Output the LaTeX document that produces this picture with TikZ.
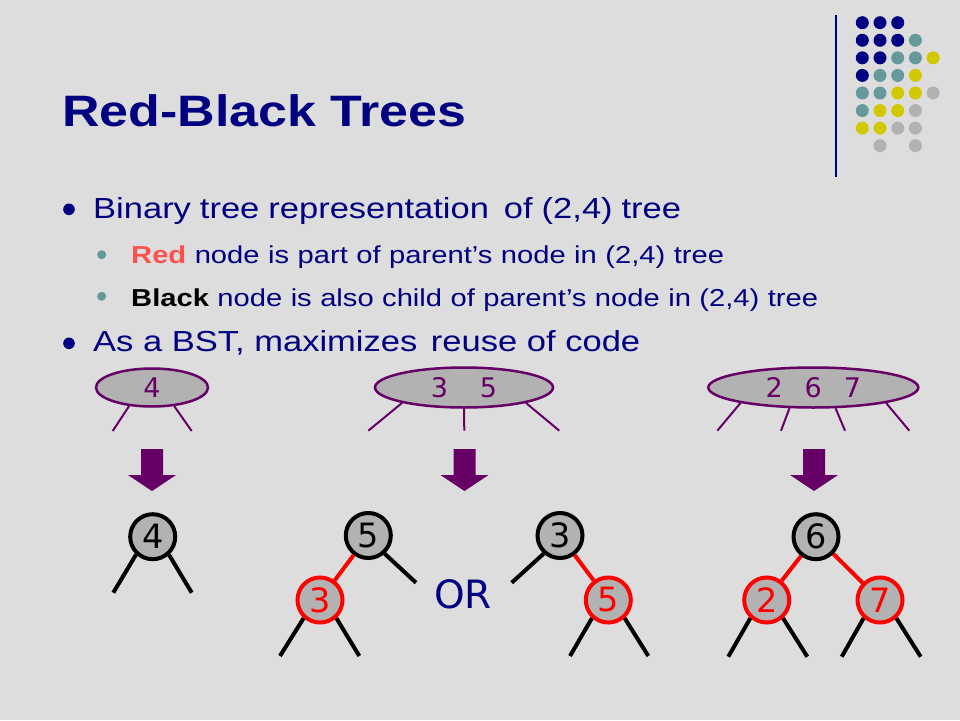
\documentclass[tikz,border=0pt]{standalone}
\usepackage{fontspec}
\setmainfont{Liberation Sans}
\newfontfamily\bodyfont[FakeStretch=1.19]{Liberation Sans}
\newfontfamily\titlefont[FakeStretch=1.18]{Liberation Sans}
\newfontfamily\digitfont{DejaVu Sans}
\usetikzlibrary{shapes.geometric}
\definecolor{bgc}{HTML}{DDDDDD}
\definecolor{navy}{HTML}{000080}
\definecolor{tealc}{HTML}{669999}
\definecolor{yell}{HTML}{D2C800}
\definecolor{greyc}{HTML}{B2B2B2}
\definecolor{purp}{HTML}{660066}
\definecolor{redw}{HTML}{FF5050}
\begin{document}
\begin{tikzpicture}[x=1pt,y=-1pt,
  bodytext/.style={anchor=base west, inner sep=0pt, text=navy, font=\bodyfont\fontsize{29}{34}\selectfont},
  subtext/.style={anchor=base west, inner sep=0pt, text=navy, font=\bodyfont\fontsize{24.5}{29}\selectfont},
  ell/.style={ellipse, draw=purp, fill=greyc, line width=2.5pt, inner sep=0pt, text=purp,
    font=\digitfont\fontsize{27}{27}\selectfont},
  ellline/.style={draw=purp, line width=2pt},
  rb/.style={circle, line width=4pt, fill=greyc, minimum size=45pt, inner sep=0pt,
    font=\digitfont\fontsize{33.5}{33.5}\selectfont},
  blknode/.style={rb, draw=black, text=black},
  rednode/.style={rb, draw=red, text=red},
  rededge/.style={draw=red, line width=4pt},
  blkedge/.style={draw=black, line width=4pt},
  downarr/.pic={\fill[purp] (-11,0) -- (11,0) -- (11,26) -- (24,26) -- (0,42) -- (-24,26) -- (-11,26) -- cycle;}
]
\fill[bgc] (0,0) rectangle (960,720);
\useasboundingbox (0,0) rectangle (960,720);

% decorative dots
\foreach \c/\r/\col in {0/0/navy,1/0/navy,2/0/navy,
  0/1/navy,1/1/navy,2/1/navy,3/1/tealc,
  0/2/navy,1/2/navy,2/2/tealc,3/2/tealc,4/2/yell,
  0/3/navy,1/3/tealc,2/3/tealc,3/3/yell,
  0/4/tealc,1/4/tealc,2/4/yell,3/4/yell,4/4/greyc,
  0/5/tealc,1/5/yell,2/5/yell,3/5/greyc,
  0/6/yell,1/6/yell,2/6/greyc,3/6/greyc,
  1/7/greyc,3/7/greyc}
  \fill[\col] (862.3+17.7*\c, 22.7+17.57*\r) circle[radius=6.5];
\draw[navy, line width=1.5pt] (836,15) -- (836,177);

% title and text
\node[anchor=base west, inner sep=0pt, text=navy] (title) at (62,126.7)
  {\titlefont\bfseries\fontsize{44}{50}\selectfont Red-Black Trees};

\fill[navy] (69,209.3) circle[radius=5.8];
\node[bodytext] (l1) at (93,218.5) {\makebox[588pt][s]{Binary tree representation\hspace{6pt} of (2,4) tree}};
\fill[tealc] (101.7,254.7) circle[radius=4.5];
\node[subtext] (s1) at (131,263) {\makebox[593pt][s]{\textcolor{redw}{\bfseries Red} node is part of parent’s node in (2,4) tree}};
\fill[tealc] (101.7,296.3) circle[radius=4.5];
\node[subtext] (s2) at (131,306.3) {\makebox[687pt][s]{\textcolor{black}{\bfseries Black} node is also child of parent’s node in (2,4) tree}};
\fill[navy] (69,343.3) circle[radius=5.8];
\node[bodytext] (l2) at (93,351) {\makebox[547pt][s]{As a BST, maximizes\hspace{4pt} reuse of code}};

% (2,4) nodes
\node[ell, minimum width=112pt, minimum height=38pt] (e1) at (152,387.5) {4};
\node[ell, minimum width=178pt, minimum height=40pt] (e2) at (464,387.5) {3\hspace{32pt}5};
\node[ell, minimum width=210pt, minimum height=40pt] (e3) at (813.3,387.5) {2\hspace{22pt}6\hspace{22pt}7};

\coordinate (e1a) at (112.7,431);
\coordinate (e1b) at (191.7,431);
\coordinate (e2a) at (368.3,430.7);
\coordinate (e2b) at (464.3,430.7);
\coordinate (e2c) at (559.3,430.7);
\coordinate (e3a) at (717.3,430.7);
\coordinate (e3b) at (781,430.7);
\coordinate (e3c) at (845,430.7);
\coordinate (e3d) at (909.3,430.7);
\draw[ellline] (e1.219) -- (e1a);
\draw[ellline] (e1.320) -- (e1b);
\draw[ellline] (e2.194) -- (e2a);
\draw[ellline] (e2.270) -- (e2b);
\draw[ellline] (e2.346) -- (e2c);
\draw[ellline] (e3.192) -- (e3a);
\draw[ellline] (e3.221) -- (e3b);
\draw[ellline] (e3.317) -- (e3c);
\draw[ellline] (e3.348) -- (e3d);

% arrows
\pic at (152,449) {downarr};
\pic at (464.5,449) {downarr};
\pic at (814,449) {downarr};

% red-black trees
\node[blknode] (n4) at (152.7,536.7) {4};
\node[blknode] (n5a) at (368.3,535.5) {5};
\node[rednode] (n3a) at (320,600) {3};
\node[blknode] (n3b) at (560,535.5) {3};
\node[rednode] (n5b) at (608.3,600) {5};
\node[blknode] (n6) at (816,536.7) {6};
\node[rednode] (n2) at (766.7,600) {2};
\node[rednode] (n7) at (880,600) {7};
\node[text=navy, inner sep=0pt, font=\digitfont\fontsize{39}{39}\selectfont] (or) at (463,594) {OR};

\draw[rededge] (n5a) -- (n3a);
\draw[rededge] (n3b) -- (n5b);
\draw[rededge] (n6) -- (n2);
\draw[rededge] (n6) -- (n7);

\coordinate (c4l) at (113.3,592.7);
\coordinate (c4r) at (191.7,592.7);
\coordinate (c5ar) at (416,582.7);
\coordinate (c3al) at (280,656);
\coordinate (c3ar) at (359.3,656);
\coordinate (c3bl) at (511.7,582.7);
\coordinate (c5bl) at (570,656);
\coordinate (c5br) at (648.3,656);
\coordinate (c2l) at (728.3,656.7);
\coordinate (c2r) at (807.3,656.7);
\coordinate (c7l) at (841.7,656.7);
\coordinate (c7r) at (920.7,656.7);
\draw[blkedge] (n4.227) -- (c4l);
\draw[blkedge] (n4.312) -- (c4r);
\draw[blkedge] (n5a.312) -- (c5ar);
\draw[blkedge] (n3a.228) -- (c3al);
\draw[blkedge] (n3a.312) -- (c3ar);
\draw[blkedge] (n3b.228) -- (c3bl);
\draw[blkedge] (n5b.228) -- (c5bl);
\draw[blkedge] (n5b.312) -- (c5br);
\draw[blkedge] (n2.228) -- (c2l);
\draw[blkedge] (n2.312) -- (c2r);
\draw[blkedge] (n7.228) -- (c7l);
\draw[blkedge] (n7.312) -- (c7r);
\end{tikzpicture}
\end{document}
